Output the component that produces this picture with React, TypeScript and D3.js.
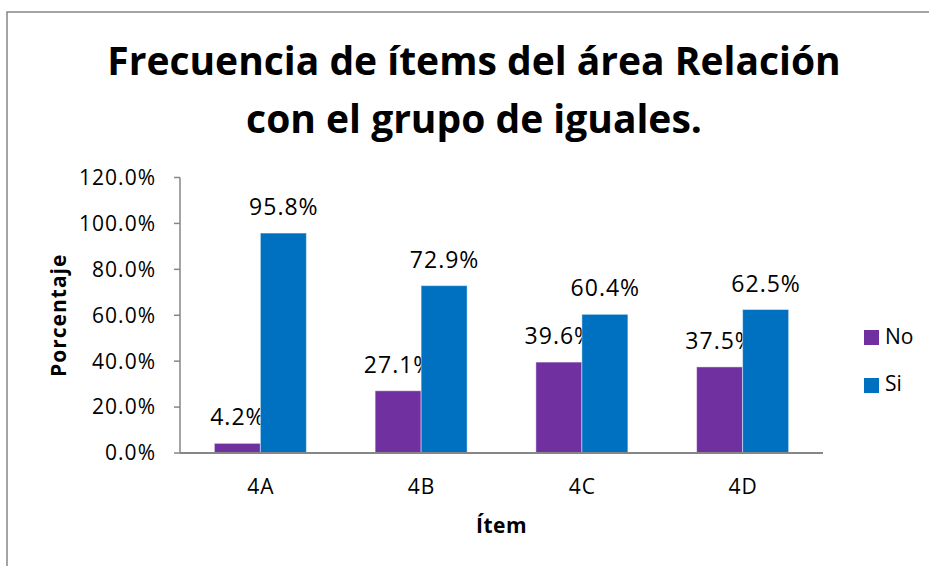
import React from "react";
import * as d3 from "d3";

const categories = ["4A", "4B", "4C", "4D"];
const seriesNames = ["No", "Si"];
const noValues = [0.042, 0.271, 0.396, 0.375];
const siValues = [0.958, 0.729, 0.604, 0.625];
const yTicks = [0, 0.2, 0.4, 0.6, 0.8, 1.0, 1.2];
const colors = ["#7030A0", "#0070C0"];
const titleLines = ["Frecuencia de ítems del área Relación", "con el grupo de iguales."];

const FONT = "'Open Sans', 'Noto Sans', sans-serif";

export default function App() {
  const W = 929, H = 566;
  const left = 180, right = 823, top = 177.5, bottom = 453;
  const x = d3.scaleBand<string>().domain(categories).range([left, right]).paddingInner(0).paddingOuter(0);
  const y = d3.scaleLinear().domain([0, 1.2]).range([bottom, top]);
  const barW = 46;
  const fmt = (v: number) => (v * 100).toFixed(1) + "%";
  const series = [noValues, siValues];
  const axisColor = "#868686";

  return (
    <svg width={W} height={H} style={{ position: "absolute", left: 0, top: 0, background: "#fff" }}>
      <rect x={7} y={12} width={W + 20} height={H + 20} fill="#fff" stroke={axisColor} strokeWidth={1.5} />
      {titleLines.map((t, i) => (
        <text key={i} x={474} y={75 + i * 58} textAnchor="middle" fontFamily={FONT} fontWeight="bold" fontSize={39} fill="#000">
          {t}
        </text>
      ))}
      {/* y axis */}
      <line x1={left} x2={left} y1={top} y2={bottom} stroke={axisColor} strokeWidth={1.5} />
      {yTicks.map((t) => (
        <g key={t}>
          <line x1={left - 6} x2={left} y1={y(t)} y2={y(t)} stroke={axisColor} strokeWidth={1.5} />
          <text x={156} y={y(t)} dy="0.35em" textAnchor="end" fontFamily={FONT} fontSize={21} letterSpacing={1} fill="#000">
            {fmt(t)}
          </text>
        </g>
      ))}
      {/* bars */}
      {categories.map((c, i) => {
        const cx = (x(c) as number) + x.bandwidth() / 2;
        return (
          <g key={c}>
            {series.map((vals, s) => {
              const bx = cx - barW + s * barW;
              return (
                <g key={s}>
                  <rect x={bx} y={y(vals[i])} width={barW} height={bottom - y(vals[i])} fill={colors[s]} stroke="rgba(255,255,255,0.45)" strokeWidth={1} />
                  <text x={bx + barW / 2 + 0.5} y={y(vals[i]) - 18} textAnchor="middle" fontFamily={FONT} fontSize={23} letterSpacing={1} fill="#000">
                    {fmt(vals[i])}
                  </text>
                </g>
              );
            })}
            <text x={cx + 0.5} y={494} textAnchor="middle" fontFamily={FONT} fontSize={21} letterSpacing={1} fill="#000">
              {c}
            </text>
          </g>
        );
      })}
      <line x1={left} x2={right} y1={bottom} y2={bottom} stroke={axisColor} strokeWidth={2} />
      {/* axis titles */}
      <text x={(left + right) / 2} y={533} textAnchor="middle" fontFamily={FONT} fontWeight="bold" fontSize={21} letterSpacing={0.5} fill="#000">
        Ítem
      </text>
      <text transform={`translate(66,${(top + bottom) / 2}) rotate(-90)`} textAnchor="middle" fontFamily={FONT} fontWeight="bold" fontSize={21} letterSpacing={1} fill="#000">
        Porcentaje
      </text>
      {/* legend */}
      {seriesNames.map((n, i) => (
        <g key={n}>
          <rect x={864} y={330 + i * 48} width={15} height={15} fill={colors[i]} />
          <text x={885} y={344 + i * 47} fontFamily={FONT} fontSize={21} fill="#000">
            {n}
          </text>
        </g>
      ))}
    </svg>
  );
}
